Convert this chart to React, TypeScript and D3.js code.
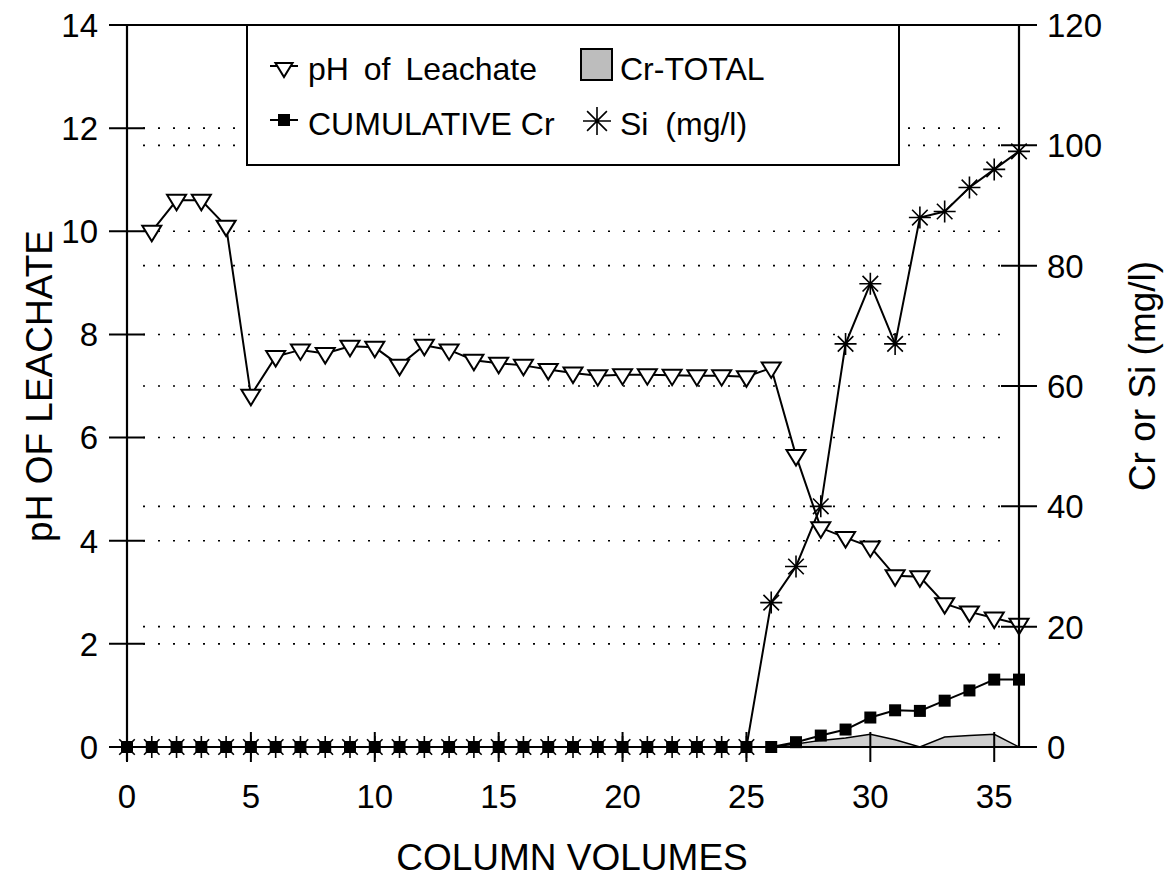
import React from "react";
import * as d3 from "d3";

// ---- data ----
const columnVolumes = [0,1,2,3,4,5,6,7,8,9,10,11,12,13,14,15,16,17,18,19,20,21,22,23,24,25,26,27,28,29,30,31,32,33,34,35,36];
const phColumns = [1,2,3,4,5,6,7,8,9,10,11,12,13,14,15,16,17,18,19,20,21,22,23,24,25,26,27,28,29,30,31,32,33,34,35,36];
const phLeachate = [10.0,10.6,10.6,10.1,6.82,7.57,7.70,7.63,7.77,7.75,7.40,7.79,7.70,7.50,7.44,7.40,7.32,7.25,7.20,7.22,7.22,7.21,7.20,7.20,7.18,7.35,5.65,4.25,4.06,3.88,3.32,3.30,2.78,2.62,2.50,2.38];
const siMgL = [0,0,0,0,0,0,0,0,0,0,0,0,0,0,0,0,0,0,0,0,0,0,0,0,0,0,24,30,40,67,77,67,88,89,93,96,99];
const cumulativeCr = [0,0,0,0,0,0,0,0,0,0,0,0,0,0,0,0,0,0,0,0,0,0,0,0,0,0,0,0.8,1.9,2.9,4.9,6.1,6.0,7.7,9.4,11.2,11.2];
const crTotal = [0,0,0,0,0,0,0,0,0,0,0,0,0,0,0,0,0,0,0,0,0,0,0,0,0,0,0,0.5,1.1,1.5,2.1,1.2,0,1.65,1.9,2.1,0];
const xTicks = [0,5,10,15,20,25,30,35];
const leftTicks = [0,2,4,6,8,10,12,14];
const rightTicks = [0,20,40,60,80,100,120];

const W = 1167, H = 879;
const L = 127, R = 1019, T = 25, B = 747;
const FONT = "'Liberation Sans', Arial, Helvetica, sans-serif";

const x = d3.scaleLinear().domain([0, 36]).range([L, R]);
const yL = d3.scaleLinear().domain([0, 14]).range([B, T]);
const yR = d3.scaleLinear().domain([0, 120]).range([B, T]);

function Tri({ cx, cy, s = 1 }: { cx: number; cy: number; s?: number }) {
  const hw = 9.5 * s, top = 5.5 * s, bot = 10 * s;
  return <path d={`M${cx - hw},${cy - top}L${cx + hw},${cy - top}L${cx},${cy + bot}Z`} fill="#fff" stroke="#000" strokeWidth={2} />;
}
function Star({ cx, cy, r = 11 }: { cx: number; cy: number; r?: number }) {
  const a = r * Math.SQRT1_2;
  return (
    <path d={`M${cx - r},${cy}L${cx + r},${cy}M${cx},${cy - r}L${cx},${cy + r}M${cx - a},${cy - a}L${cx + a},${cy + a}M${cx - a},${cy + a}L${cx + a},${cy - a}`} stroke="#000" strokeWidth={1.6} fill="none" />
  );
}
function Sq({ cx, cy, s = 12 }: { cx: number; cy: number; s?: number }) {
  return <rect x={cx - s / 2} y={cy - s / 2} width={s} height={s} fill="#000" />;
}

export default function App() {
  const phPts = phColumns.map((c, i) => [x(c), yL(phLeachate[i])] as [number, number]);
  const siPts = columnVolumes.map((c, i) => [x(c), yR(siMgL[i])] as [number, number]);
  const crPts = columnVolumes.map((c, i) => [x(c), yR(cumulativeCr[i])] as [number, number]);
  const crTotPts = columnVolumes.map((c, i) => [x(c), yR(crTotal[i])] as [number, number]);
  const line = d3.line();
  const area = d3.area<[number, number]>().x((d) => d[0]).y0(yR(0)).y1((d) => d[1]);
  const gridYs = [
    ...leftTicks.filter((t) => t > 0 && t < 14).map((t) => yL(t)),
    ...rightTicks.filter((t) => t > 0 && t < 120).map((t) => yR(t)),
  ];

  return (
    <svg width={W} height={H} style={{ position: "absolute", left: 0, top: 0, background: "#fff" }} fontFamily={FONT}>
      <rect width={W} height={H} fill="#fff" />
      {/* grid */}
      {gridYs.map((gy, i) => (
        <line key={"g" + i} x1={L + 16} x2={R - 8} y1={gy} y2={gy} stroke="#000" strokeWidth={1.6} strokeDasharray="2 13" />
      ))}
      {/* Cr total area */}
      <path d={area(crTotPts) || ""} fill="#cfcfcf" stroke="none" />
      <path d={line(crTotPts.slice(26)) || ""} fill="none" stroke="#000" strokeWidth={1.5} />
      {/* lines */}
      <path d={line(phPts) || ""} fill="none" stroke="#000" strokeWidth={2} />
      <path d={line(siPts) || ""} fill="none" stroke="#000" strokeWidth={2} />
      <path d={line(crPts) || ""} fill="none" stroke="#000" strokeWidth={2} />
      {crPts.map(([cx, cy], i) => <Sq key={"c" + i} cx={cx} cy={cy} />)}
      {siPts.map(([cx, cy], i) => <Star key={"s" + i} cx={cx} cy={cy} />)}
      {phPts.map(([cx, cy], i) => <Tri key={"p" + i} cx={cx} cy={cy} />)}

      {/* frame / axes */}
      <line x1={L} x2={L} y1={T} y2={B + 14} stroke="#000" strokeWidth={2.2} />
      <line x1={R} x2={R} y1={T} y2={B} stroke="#000" strokeWidth={2.2} />
      <line x1={L - 18} x2={R + 18} y1={T} y2={T} stroke="#000" strokeWidth={2} />
      <line x1={L - 18} x2={R + 18} y1={B} y2={B} stroke="#000" strokeWidth={2} />
      {leftTicks.map((t) => (
        <g key={"lt" + t}>
          <line x1={L - 18} x2={L + 18} y1={yL(t)} y2={yL(t)} stroke="#000" strokeWidth={2} />
          <text x={98} y={yL(t)} dy="0.36em" textAnchor="end" fontSize={33}>{t}</text>
        </g>
      ))}
      {rightTicks.map((t) => (
        <g key={"rt" + t}>
          <line x1={R - 18} x2={R + 18} y1={yR(t)} y2={yR(t)} stroke="#000" strokeWidth={2} />
          <text x={1047} y={yR(t)} dy="0.36em" textAnchor="start" fontSize={33}>{t}</text>
        </g>
      ))}
      {xTicks.map((t) => (
        <g key={"xt" + t}>
          <line x1={x(t)} x2={x(t)} y1={B - 15} y2={B + 15} stroke="#000" strokeWidth={2} />
          <text x={x(t)} y={808} textAnchor="middle" fontSize={33}>{t}</text>
        </g>
      ))}
      {/* axis titles */}
      <text x={572} y={870} textAnchor="middle" fontSize={37}>COLUMN VOLUMES</text>
      <text transform={`translate(52,386) rotate(-90)`} textAnchor="middle" fontSize={37}>pH OF LEACHATE</text>
      <text transform={`translate(1155,376) rotate(-90)`} textAnchor="middle" fontSize={37}>Cr or Si (mg/l)</text>

      {/* legend */}
      <rect x={247} y={T} width={652} height={140} fill="#fff" stroke="#000" strokeWidth={2} />
      <line x1={270} x2={298} y1={66} y2={66} stroke="#000" strokeWidth={2} />
      <Tri cx={284} cy={68} s={0.9} />
      <text x={308} y={80} fontSize={32} wordSpacing={6}>pH of Leachate</text>
      <rect x={581} y={49} width={31} height={31} fill="#bdbdbd" stroke="#000" strokeWidth={2} />
      <text x={620} y={80} fontSize={32}>Cr-TOTAL</text>
      <line x1={270} x2={298} y1={120} y2={120} stroke="#000" strokeWidth={2} />
      <Sq cx={284} cy={120} s={12} />
      <text x={308} y={135} fontSize={32}>CUMULATIVE Cr</text>
      <Star cx={597} cy={121} r={14} />
      <text x={620} y={135} fontSize={32} wordSpacing={8}>Si (mg/l)</text>
    </svg>
  );
}
